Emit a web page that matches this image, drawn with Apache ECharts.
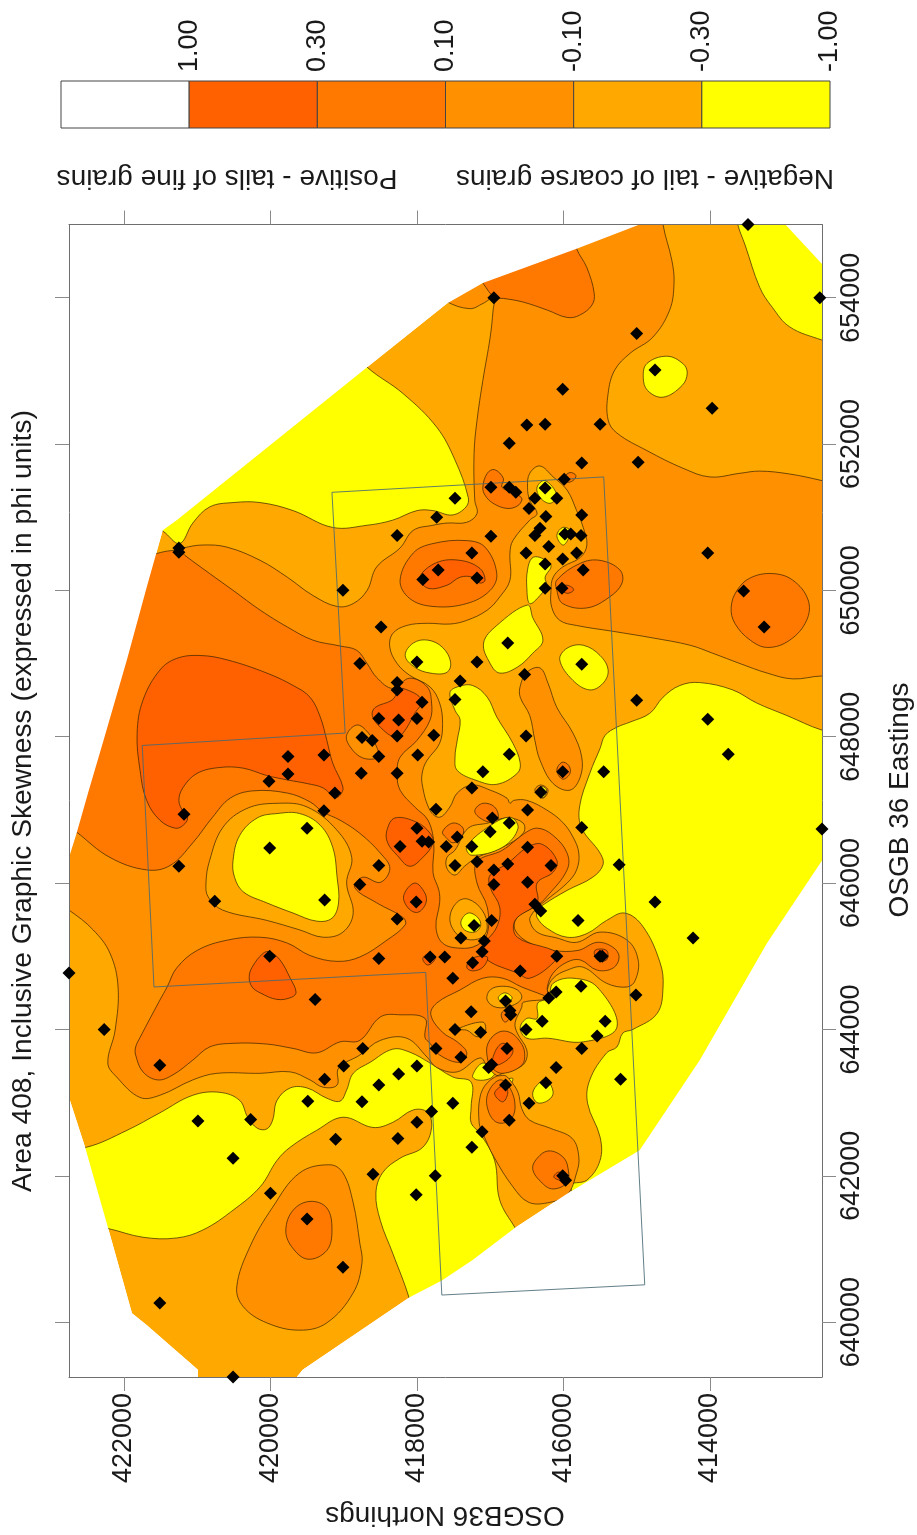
<!DOCTYPE html>
<html><head><meta charset="utf-8">
<style>html,body{margin:0;padding:0;background:#fff}#c{width:917px;height:1535px}</style>
<script src="https://cdn.jsdelivr.net/npm/echarts@6/dist/echarts.min.js"></script>
</head><body><div id="c"></div>
<script>
// All coordinates: [northing km, easting km, northing km, easting km, ...] in OSGB36
const northingTicks=[414000,416000,418000,420000,422000];
const eastingTicks=[640000,642000,644000,646000,648000,650000,652000,654000];
const legendLabels=["1.00","0.30","0.10","-0.10","-0.30","-1.00"];
const legendColors=["#ffffff","#ff6000","#ff7800","#ff9000","#ffa800","#ffff00"];
const C60="#ff6000",C78="#ff7800",C90="#ff9000",CA8="#ffa800",CY="#ffff00";

const domainEdge=[414.96,655.00,415.82,654.67,417.10,654.20,417.59,653.92,418.68,653.05,421.28,650.96,421.47,650.82,421.69,650.04,421.96,649.05,422.29,647.91,422.49,647.23,422.64,646.70,422.75,646.35,422.75,643.07,422.53,642.39,422.22,641.30,421.89,640.12,421.69,639.96,420.99,639.35,420.99,639.25,419.64,639.25,419.56,639.35,418.10,640.34,417.66,640.57,417.24,640.85,416.66,641.29,415.94,641.76,414.96,642.35,414.14,643.58,413.22,645.18,412.47,646.31,412.47,654.46,412.97,655.00];

// yellow (below -0.30)
const yNW=[418.68,653.05,418.19,652.69,417.73,652.23,417.48,651.78,417.30,651.27,417.33,651.14,417.52,651.03,417.78,651.09,418.00,651.09,418.33,650.96,418.68,650.89,419.15,650.86,419.69,651.09,420.14,651.20,420.51,651.20,420.83,651.14,421.06,650.92,421.24,650.64,421.47,650.81,421.78,650.96,418.85,653.28];
const yNE=[413.62,655.00,413.52,654.72,413.32,654.14,413.15,653.87,412.91,653.60,412.47,653.42,412.23,653.35,412.23,655.26,413.66,655.26];
const ySE=[412.23,648.06,412.47,648.09,412.95,648.29,413.36,648.46,413.69,648.64,414.14,648.74,414.41,648.70,414.64,648.54,414.82,648.32,415.09,648.20,415.27,648.13,415.43,648.02,415.50,647.84,415.64,647.50,415.78,647.04,415.75,646.75,415.50,646.41,415.46,646.25,415.60,646.08,415.95,645.90,416.28,645.70,416.35,645.63,416.36,645.53,416.22,645.38,415.95,645.26,415.68,645.31,415.41,645.49,415.16,645.59,414.91,645.40,414.68,644.91,414.64,644.58,414.72,644.22,415.05,644.00,415.19,643.95,415.27,643.76,415.41,643.68,415.64,643.31,415.67,642.99,415.50,642.53,415.50,642.21,415.68,641.94,415.91,641.87,415.64,641.55,414.27,642.62,412.91,644.40,412.23,646.04];
const ySW=[422.74,642.42,422.51,642.39,421.96,642.62,421.51,642.86,421.06,643.10,420.69,643.14,420.42,643.03,420.31,642.80,420.18,642.65,420.05,642.64,419.97,642.76,419.91,643.03,419.73,643.20,419.50,643.20,419.23,643.06,419.05,643.02,418.96,643.17,418.87,643.40,418.64,643.55,418.33,643.73,418.10,643.69,417.82,643.54,417.51,643.35,417.26,643.28,417.26,642.94,417.26,642.72,417.14,642.58,416.94,642.21,416.87,641.67,416.66,641.29,416.46,640.98,418.03,639.96,418.11,640.34,418.33,640.94,418.50,641.39,418.56,641.76,418.47,642.04,418.23,642.24,417.92,642.39,417.80,642.66,417.86,642.87,418.05,642.90,418.33,642.73,418.60,642.66,419.01,642.80,419.37,642.62,419.73,642.39,419.91,642.21,420.14,641.85,420.51,641.53,420.92,641.26,421.28,641.15,421.74,641.16,422.22,641.28,422.53,641.33];
const y5=[414.91,652.91,414.86,653.10,414.59,653.20,414.37,653.10,414.31,652.97,414.38,652.80,414.64,652.64,414.85,652.73];
const yA=[418.16,649.11,418.05,649.28,417.85,649.32,417.65,649.22,417.54,649.02,417.59,648.88,417.82,648.87,418.03,648.95];
const yB=[417.09,649.28,416.91,649.52,416.49,649.80,416.42,649.63,416.28,649.32,416.42,649.14,416.63,648.95,416.87,648.87,417.00,649.00];
const yC=[416.49,650.28,416.43,650.44,416.32,650.45,416.17,650.34,416.25,650.18,416.23,650.07,416.32,649.93,416.46,649.82,416.50,650.04];
const yD=[416.05,649.05,415.95,649.21,415.73,649.25,415.50,649.11,415.39,648.91,415.46,648.73,415.64,648.64,415.87,648.77];
const yE=[417.55,648.60,417.45,648.68,417.24,648.70,417.04,648.54,416.91,648.27,416.69,647.91,416.59,647.64,416.63,647.50,416.91,647.35,417.18,647.40,417.45,647.54,417.48,647.72,417.45,647.95,417.41,648.23,417.48,648.36];
const yG=[416.09,650.75,416.01,650.86,415.91,650.82,415.94,650.69,416.01,650.62];
const yH=[416.36,651.41,416.25,651.50,416.09,651.30,416.18,651.19,416.32,651.27];
const yBlob=[416.59,644.02,416.50,644.15,416.36,644.15,416.35,644.36,416.21,644.43,416.14,644.63,415.87,644.70,415.54,644.58,415.27,644.03,415.73,643.83,416.22,643.88,416.50,643.88];
const yJ=[416.42,643.13,416.32,643.28,416.23,643.31,416.14,643.14,416.21,643.03,416.36,643.00];
const yK=[417.24,643.37,417.10,643.54,416.94,643.42,417.00,643.33,417.18,643.31];
const yL=[416.77,643.31,416.69,643.33,416.73,643.24];

// -0.10 to 0.10 main area and islands
const f90Main=[414.64,655.26,414.64,655.00,414.52,654.51,414.49,654.20,414.55,653.83,414.78,653.46,415.09,653.24,415.30,653.01,415.39,652.69,415.39,652.33,415.27,652.15,414.86,651.91,414.37,651.67,414.00,651.55,413.59,651.60,413.32,651.63,412.91,651.59,412.47,651.50,412.16,651.42,412.16,648.80,412.47,648.83,412.87,648.79,413.22,648.87,413.59,649.00,413.96,649.14,414.27,649.25,414.78,649.35,415.32,649.44,415.82,649.52,416.05,649.59,416.16,649.77,416.17,650.00,416.14,650.18,416.01,650.32,415.77,650.45,415.68,650.62,415.73,650.86,415.82,651.09,415.95,651.37,416.14,651.55,416.32,651.70,416.46,651.60,416.49,651.41,416.46,651.23,416.36,651.05,416.46,650.96,416.69,650.68,416.73,650.51,416.73,650.14,416.87,649.91,417.04,649.73,417.32,649.59,417.55,649.54,417.86,649.55,418.14,649.52,418.33,649.41,418.37,649.22,418.27,649.00,418.10,648.84,417.82,648.68,417.69,648.46,417.65,648.18,417.69,647.91,417.86,647.68,417.92,647.54,417.93,647.36,417.82,646.99,417.69,646.90,417.55,647.04,417.45,647.23,417.25,647.34,417.00,647.27,416.77,647.16,416.73,647.09,416.68,647.13,416.50,647.13,416.23,647.00,416.01,646.83,415.87,646.63,415.79,646.41,415.82,646.18,415.95,646.00,416.23,645.77,416.35,645.67,416.42,645.59,416.46,645.49,416.36,645.33,416.09,645.25,415.82,645.19,415.50,645.33,415.13,645.22,414.98,644.95,415.02,644.67,415.13,644.58,415.41,644.63,415.73,644.85,415.95,644.81,416.14,644.70,416.22,644.54,416.20,644.43,416.55,644.37,416.57,644.30,416.66,644.09,416.63,643.95,416.50,643.72,416.53,643.54,416.69,643.44,416.83,643.40,417.04,643.27,417.14,643.07,417.15,642.72,417.10,642.58,416.95,642.26,416.69,641.85,416.48,641.64,416.22,641.63,415.95,641.74,415.82,642.04,415.79,642.26,415.88,642.51,416.18,642.65,416.46,642.76,416.57,642.92,416.62,643.14,416.73,643.31,416.80,643.37,416.91,643.37,417.03,643.48,417.14,643.61,417.45,643.42,417.73,643.48,417.86,643.62,418.14,643.88,418.50,643.85,418.78,643.65,419.07,643.47,419.09,643.24,419.28,643.21,419.46,643.31,419.73,643.42,420.14,643.40,420.73,643.40,421.06,643.31,421.51,643.10,421.78,643.07,422.10,643.35,422.22,643.54,422.12,643.99,422.08,644.58,422.19,645.04,422.42,645.36,422.75,645.63,423.08,645.83,423.08,650.41,421.65,650.48,421.25,650.55,421.19,650.58,420.92,650.62,420.59,650.59,420.14,650.41,419.77,650.18,419.42,649.93,419.09,649.78,418.87,649.82,418.68,650.00,418.55,650.32,418.23,650.58,418.05,650.82,417.78,650.89,417.59,650.92,417.32,650.93,417.18,651.05,417.21,651.23,417.22,651.87,417.18,652.32,417.10,652.87,417.00,653.46,416.96,653.83,416.95,654.00,417.10,653.92,417.28,653.85,417.60,653.95,417.89,654.17,417.28,654.51,415.50,655.26];
const f90Tongue=[416.59,648.69,416.50,648.88,416.32,648.94,416.21,648.73,416.09,648.40,415.87,648.05,415.75,647.72,415.77,647.45,415.91,647.27,416.14,647.36,416.32,647.68,416.39,647.95,416.46,648.29,416.59,648.54];
const f90Ring=[416.39,647.27,416.31,647.34,416.21,647.27,416.28,647.16];
const f90Oval=[420.46,640.48,420.28,641.03,419.97,641.57,419.60,642.04,419.19,642.15,419.01,642.04,418.87,641.63,418.78,641.08,418.75,640.81,418.87,640.40,419.23,639.99,419.60,639.89,420.05,639.99,420.37,640.21];
const yI=[416.36,647.27,416.29,647.32,416.23,647.27,416.28,647.17];

// 0.10 to 0.30
const f78Main=[421.25,650.55,421.17,650.48,420.83,650.23,420.51,650.00,420.14,649.73,419.77,649.50,419.42,649.32,419.05,649.24,418.82,649.18,418.68,649.00,418.55,648.81,418.33,648.66,418.10,648.80,417.86,648.68,417.80,648.46,417.82,648.23,418.00,647.95,418.23,647.72,418.27,647.50,418.23,647.27,418.03,647.04,417.85,646.86,417.77,646.55,417.78,646.14,417.70,645.90,417.69,645.73,417.74,645.40,417.65,645.18,417.41,645.11,417.18,645.15,417.04,645.31,417.04,645.67,417.18,646.00,417.18,646.29,416.83,646.45,416.53,646.68,416.35,646.75,416.14,646.65,415.95,646.41,415.95,646.18,416.23,645.81,416.35,645.70,416.63,645.53,416.66,645.36,416.46,645.18,416.14,645.08,415.80,645.08,415.54,645.19,415.32,645.12,415.24,644.99,415.32,644.84,415.54,644.81,415.77,644.95,415.95,644.92,416.14,644.77,416.22,644.58,416.21,644.44,416.28,644.47,416.57,644.58,416.83,644.70,417.10,644.70,417.41,644.54,417.73,644.36,417.81,644.20,417.65,643.96,417.45,643.83,417.32,643.68,417.41,643.55,417.69,643.65,417.82,643.81,417.89,643.89,417.89,644.15,418.23,644.20,418.50,644.17,418.78,643.85,419.05,643.83,419.37,643.68,419.69,643.74,420.05,643.80,420.51,643.81,420.83,643.76,421.06,643.58,421.33,643.38,421.54,643.31,421.74,643.42,421.84,643.65,421.84,643.76,421.78,643.89,421.51,644.40,421.41,644.58,421.28,644.84,421.00,645.08,420.59,645.22,420.14,645.26,419.77,645.18,419.46,645.01,419.09,644.93,418.78,644.99,418.41,645.22,418.16,645.43,418.19,645.53,418.55,645.73,418.85,645.94,418.74,646.08,418.50,646.01,418.37,646.20,418.50,646.41,418.78,646.68,419.05,646.86,419.28,646.97,419.46,647.11,419.77,647.23,420.24,647.26,420.55,647.16,420.79,646.90,421.06,646.55,421.37,646.24,421.69,646.18,422.19,646.35,422.65,646.70,422.94,646.93,422.94,647.82,421.99,650.27,421.65,650.47];
const f78Centre=[418.23,650.14,418.05,650.51,417.78,650.64,417.32,650.68,417.07,650.59,416.91,650.23,417.00,650.00,417.32,649.82,417.78,649.78,418.10,649.89];
const f78Right=[416.09,650.14,415.77,650.37,415.50,650.41,415.23,650.28,415.20,650.10,415.37,649.91,415.68,649.76,416.01,649.82,416.09,650.00];
const f78Wedge=[415.84,654.85,415.82,654.67,415.68,654.41,415.58,654.06,415.61,653.90,415.78,653.76,415.95,653.73,416.22,653.83,416.55,653.94,416.82,653.99,416.94,654.00,417.10,654.20,417.28,654.44];
const f78Hook=[417.10,651.41,417.04,651.60,416.94,651.65,416.82,651.53,416.84,651.41,416.70,651.34,416.57,651.26,416.62,651.16,416.77,651.12,416.96,651.19,417.07,651.30];
const f78Dot=[415.98,651.55,415.91,651.61,415.83,651.57,415.87,651.50,415.95,651.48];
const f78Circle=[413.71,649.77,413.63,650.00,413.45,650.17,413.15,650.23,412.87,650.14,412.66,649.87,412.68,649.59,412.91,649.32,413.21,649.22,413.45,649.32,413.66,649.55];
const f78Spot=[416.09,647.54,416.02,647.65,415.93,647.61,415.91,647.50,416.01,647.42];
const f78Band1=[417.21,646.99,417.10,647.09,416.94,647.04,416.89,646.89,416.98,646.83,417.14,646.89];
const f78Band2=[417.65,646.70,417.51,646.82,417.37,646.75,417.40,646.61,417.51,646.55,417.59,646.61];
const f78Lobe=[417.03,643.13,417.03,642.90,416.91,642.73,416.73,642.76,416.66,642.94,416.73,643.20,416.87,643.31];
const f78South=[416.42,642.10,416.32,642.28,416.18,642.34,416.01,642.26,415.94,642.12,415.95,641.91,416.14,641.82,416.29,641.90];
const f78Neck=[417.04,643.62,417.03,643.81,416.89,643.96,416.73,643.96,416.59,643.83,416.53,643.68,416.57,643.51,416.83,643.40,416.98,643.48];
const f78Small=[416.85,644.20,416.80,644.26,416.73,644.17,416.80,644.10];
const f78Oval=[419.79,641.26,419.69,641.53,419.46,641.65,419.23,641.56,419.16,641.26,419.23,640.98,419.49,640.86,419.71,641.03];
const f90Inner=[418.82,648.16,418.67,648.06,418.55,647.86,418.53,647.72,418.74,647.71,418.91,647.86,418.96,648.02];

// -0.30 to -0.10 pockets and the yellow cores inside them
const a8Left=[420.88,646.00,420.83,646.31,420.65,646.76,420.32,647.02,419.91,647.09,419.50,647.04,419.09,646.72,418.89,646.35,418.96,646.00,418.87,645.59,419.01,645.33,419.28,645.26,419.60,645.36,420.05,645.49,420.65,645.63,420.85,645.81];
const yLeft=[420.51,646.31,420.42,646.65,420.18,646.89,419.91,646.95,419.60,646.95,419.32,646.79,419.15,646.49,419.09,646.08,419.07,645.73,419.16,645.52,419.37,645.48,419.69,645.59,420.05,645.73,420.37,645.88,420.49,646.08];
const a8Mid=[417.55,645.53,417.45,645.74,417.30,645.78,417.11,645.63,417.04,645.40,417.11,645.26,417.32,645.23,417.48,645.33];
const yMid=[417.40,645.47,417.30,645.59,417.17,645.53,417.13,645.42,417.21,645.33,417.35,645.36];
const a8Sausage=[417.59,646.35,417.48,646.45,417.30,646.75,417.03,646.82,416.77,646.89,416.55,646.82,416.55,646.68,416.83,646.49,417.18,646.35,417.35,646.23,417.48,646.11,417.59,646.20];
const ySausage=[417.32,646.49,417.05,646.75,416.73,646.90,416.62,646.75,416.83,646.49,417.25,646.38];
const a8Low=[417.04,644.40,417.00,644.54,416.83,644.59,416.63,644.54,416.57,644.43,416.69,644.33,416.91,644.30];
const yLow=[416.89,644.43,416.80,644.50,416.70,644.43,416.80,644.36];
const a8Sliver=[417.48,643.99,417.10,644.10,417.07,643.95,417.18,643.90,417.32,643.99];

// 0.30 to 1.00
const f60Big=[421.82,648.05,421.74,648.50,421.51,648.91,421.28,649.07,420.96,649.11,420.59,649.05,420.05,648.87,419.69,648.70,419.46,648.54,419.32,648.27,419.23,647.95,419.15,647.64,419.01,647.31,419.05,647.20,419.12,647.17,419.28,647.30,419.50,647.36,419.77,647.41,420.05,647.47,420.37,647.57,420.69,647.58,421.00,647.50,421.19,647.31,421.25,647.13,421.19,646.97,421.13,646.89,421.19,646.79,421.30,646.75,421.51,646.86,421.69,647.13,421.78,647.54];
const f60Lower=[420.29,644.71,420.25,644.85,420.10,645.04,420.01,645.06,419.87,644.95,419.73,644.70,419.65,644.51,419.71,644.44,419.91,644.41,420.14,644.50,420.25,644.58];
const f60CentreLeft=[418.61,648.29,418.57,648.40,418.34,648.50,418.26,648.61,418.19,648.66,417.93,648.50,418.03,648.32,418.19,648.05,418.30,647.99,418.50,648.13];
const f60Central=[417.00,646.11,416.76,646.27,416.49,646.49,416.29,646.53,416.09,646.31,416.14,646.15,416.36,646.00,416.36,645.73,416.66,645.49,416.63,645.26,416.09,645.05,416.14,644.91,416.46,644.70,416.63,644.77,417.04,644.95,417.10,645.12,416.91,645.40,416.87,645.67,417.00,645.94];
const f60D=[418.41,646.72,418.30,646.89,418.00,646.83,417.82,646.68,417.78,646.55,417.92,646.35,418.10,646.23,418.27,646.38,418.40,646.55];
const f60E=[418.18,645.83,418.03,646.00,417.89,645.86,417.88,645.72,417.99,645.60,418.12,645.66];
const f60T1=[417.92,644.97,417.82,645.04,417.75,644.97,417.85,644.88];
const f60T2=[417.32,644.85,417.25,644.97,417.04,644.99,417.10,644.85,417.24,644.80];
const f60Core=[415.57,645.08,415.41,645.08,415.41,644.95,415.54,644.95];
const f60Inner=[417.96,650.18,417.73,650.38,417.41,650.41,417.14,650.30,417.07,650.14,417.14,650.10,417.24,650.18,417.41,650.18,417.59,650.07,417.85,650.03];
const f60Tiny=[416.07,650.04,415.95,650.07,415.86,650.01,415.95,649.96];
const f60Lobe=[416.94,643.13,416.83,643.01,416.76,643.13,416.80,643.24];
const f60South=[416.13,641.98,416.07,642.05,415.99,642.01,416.02,641.94];
const f60Neck=[416.94,643.68,416.83,643.81,416.69,643.72,416.77,643.58,416.96,643.51];

const surveyOutline=[419.16,651.34,415.45,651.55,414.89,640.51,417.66,640.37,417.88,644.78,421.59,644.58,421.75,647.88,418.98,648.05,419.16,651.34];

const sampleNorthing=[416.95,413.48,412.50,415.00,414.75,413.97,416.01,416.50,416.25,415.50,416.74,415.75,414.98,415.99,416.99,416.74,416.65,416.25,416.39,416.09,416.47,416.24,415.75,417.48,421.25,421.25,419.01,418.49,418.78,418.27,418.27,418.27,418.52,418.25,418.27,418.75,418.61,418.52,419.76,419.27,419.76,420.02,418.76,418.27,419.12,417.73,416.99,416.32,416.39,415.98,415.90,415.76,416.20,416.51,415.82,416.01,416.25,415.73,417.25,417.71,417.92,417.18,416.25,416.02,418.00,417.41,417.18,416.76,417.48,417.93,418.00,417.77,417.99,416.53,415.75,415.00,416.51,416.74,416.01,415.45,417.10,414.03,413.54,413.26,414.03,413.75,412.47,415.24,414.75,414.23,415.47,415.01,415.43,415.22,421.18,421.25,420.01,419.50,419.26,420.76,419.27,418.52,418.78,418.27,418.52,420.01,419.39,422.75,422.27,418.74,417.25,417.74,416.97,416.49,416.74,417.00,415.75,416.31,418.00,417.45,417.93,417.84,418.23,417.60,417.25,416.49,417.48,417.18,416.76,416.95,416.17,416.95,416.49,418.01,416.39,416.31,415.80,416.98,417.22,417.40,417.08,417.11,417.24,417.82,417.62,416.09,415.50,416.59,417.51,415.76,416.10,416.20,416.79,416.73,416.72,417.26,416.29,416.51,417.48,417.13,415.54,415.75,416.10,416.24,416.77,416.98,417.02,416.79,416.47,416.74,417.11,417.25,415.97,416.01,417.40,417.74,419.00,418.00,418.25,418.52,418.75,417.80,417.51,418.00,418.26,418.60,417.75,418.01,421.51,419.26,419.49,420.27,420.99,420.51,420.00,419.11,419.50,419.01,421.51,420.51];
const sampleEasting=[654.00,655.00,654.00,653.51,653.01,652.49,652.75,652.26,652.27,652.27,652.01,651.74,651.75,651.52,651.41,651.41,651.34,651.40,651.26,651.26,651.12,651.01,651.03,651.26,650.58,650.52,650.00,649.50,649.00,648.64,648.74,650.75,648.25,648.23,648.01,647.99,647.95,647.73,647.73,647.75,647.49,647.39,647.50,647.50,647.23,651.00,650.74,650.85,650.75,650.77,650.77,650.75,650.60,650.51,650.51,650.43,650.36,650.28,650.51,650.28,650.15,650.17,650.03,650.03,649.02,648.76,649.02,649.28,648.51,648.47,648.25,648.02,647.75,648.85,648.99,648.50,648.01,647.76,647.52,647.52,647.52,650.51,649.99,649.50,648.24,647.76,646.74,646.25,645.74,645.25,645.00,644.47,644.11,643.32,646.94,646.23,646.48,646.75,645.77,645.75,646.99,646.24,645.98,645.51,644.97,645.00,644.41,644.77,644.00,643.74,647.30,647.01,646.89,647.00,646.82,646.70,646.76,647.24,646.75,646.63,646.57,646.56,646.50,646.50,646.50,646.49,646.24,646.29,646.26,646.18,646.24,645.98,646.01,645.74,645.71,645.62,645.49,645.49,645.42,645.25,645.21,645.06,644.91,644.99,644.99,645.00,645.00,644.80,644.70,644.59,644.51,644.43,644.39,644.26,644.20,644.24,644.11,644.00,644.00,643.96,643.91,643.74,643.48,643.27,643.74,643.52,643.48,643.24,642.99,642.76,642.60,642.39,641.94,642.00,643.62,643.74,643.50,643.50,643.39,643.24,643.01,642.88,642.99,642.73,642.51,642.02,642.00,641.74,643.51,643.32,643.02,642.77,642.75,642.24,641.76,642.50,641.41,640.75,640.26,639.25];

// helpers
const pairs=a=>{const r=[];for(let i=0;i<a.length;i+=2)r.push([a[i]*1000,a[i+1]*1000]);return r;};
const domain=pairs(domainEdge);
const outsideNW=domain.slice(0,13).concat(pairs([423,646.35,423,655.3,414.96,655.3]));
const outsideSW=domain.slice(13,20).concat(pairs([420.99,639,423,639,423,643.07]));
const outsideSE=domain.slice(20,31).concat(pairs([412.2,646.31,412.2,639,419.64,639]));
const outsideNE=domain.slice(31,33).concat(pairs([412.97,655.3,412.2,655.3,412.2,654.46]));

const layers=[
 [CY,[yNW,yNE,ySE,ySW,y5,yA,yB,yC,yD,yE,yG,yH,yBlob,yJ,yK,yL]],
 [C90,[f90Main,f90Tongue,f90Ring,f90Oval]],
 [CY,[yI]],
 [C78,[f78Main,f78Centre,f78Right,f78Wedge,f78Hook,f78Dot,f78Circle,f78Spot,f78Band1,f78Band2,f78Lobe,f78South,f78Neck,f78Small,f78Oval]],
 [C90,[f90Inner]],
 [CA8,[a8Left,a8Mid,a8Sausage,a8Low,a8Sliver]],
 [CY,[yLeft,yMid,ySausage,yLow]],
 [C60,[f60Big,f60Lower,f60CentreLeft,f60Central,f60D,f60E,f60T1,f60T2,f60Core,f60Inner,f60Tiny,f60Lobe,f60South,f60Neck]]
];
const regions=[{pts:domain,fill:CA8,plain:true}];
layers.forEach(([c,list])=>list.forEach(a=>regions.push({pts:pairs(a),fill:c})));
[outsideNW,outsideSW,outsideSE,outsideNE].forEach(p=>regions.push({pts:p,fill:"#ffffff",plain:true}));

const renderRegion=(params,api)=>{
  const r=regions[params.dataIndex];
  return {type:'polygon',z2:params.dataIndex,
    shape:{points:r.pts.map(p=>api.coord(p)),smooth:r.plain?0:0.38},
    style:r.plain?{fill:r.fill,stroke:null}:{fill:r.fill,stroke:'rgba(45,30,0,0.85)',lineWidth:0.8}};
};
const renderCell=(params,api)=>{
  const i=api.value(0),a=api.coord([i,1]),b=api.coord([i+1,0]);
  return {type:'rect',shape:{x:a[0],y:a[1],width:b[0]-a[0],height:b[1]-a[1]},
    style:{fill:legendColors[i],stroke:'#444',lineWidth:1}};
};
const FONT='"Liberation Sans",Arial,sans-serif';
const txt=(text,x,y,rot,size)=>({type:'text',x,y,rotation:rot,z:20,
  style:{text,fill:'#1a1a1a',font:size+'px '+FONT,align:'center',verticalAlign:'middle'}});
const mirrorAxis=(pos,vals,min,max,inv)=>({type:'value',gridIndex:0,position:pos,min,max,inverse:inv,z:4,
  axisLine:{show:true,onZero:false,lineStyle:{color:'#6e6e6e',width:1}},
  axisTick:{show:true,length:14,customValues:vals,lineStyle:{color:'#8a8a8a',width:1}},
  axisLabel:{show:false},splitLine:{show:false}});
const numberLabel={show:true,rotate:90,fontSize:27,fontFamily:FONT,color:'#1a1a1a',margin:16,formatter:v=>String(v)};

const xB=mirrorAxis('bottom',northingTicks,412470,422750,true);
xB.axisLabel=Object.assign({},numberLabel,{customValues:northingTicks});
const xT=mirrorAxis('top',northingTicks,412470,422750,true);
const yR=mirrorAxis('right',eastingTicks,639250,655000,false);
yR.axisLabel=Object.assign({},numberLabel,{customValues:eastingTicks});
const yL2=mirrorAxis('left',eastingTicks,639250,655000,false);

const chart=echarts.init(document.getElementById('c'),null,{renderer:'canvas'});
chart.setOption({
  animation:false,backgroundColor:'#fff',
  grid:[{left:69,top:224.5,width:753,height:1152.5,show:false},{left:61,top:81,width:769,height:47,show:false}],
  xAxis:[xB,xT,{type:'value',gridIndex:1,position:'top',min:0,max:6,interval:1,
    axisLine:{show:false},axisTick:{show:false},splitLine:{show:false},
    axisLabel:{show:true,rotate:90,fontSize:27,fontFamily:FONT,color:'#1a1a1a',margin:9,showMinLabel:false,
      formatter:v=>legendLabels[v-1]||''}}],
  yAxis:[yR,yL2,{type:'value',gridIndex:1,min:0,max:1,show:false}],
  graphic:{elements:[
    txt('Area 408, Inclusive Graphic Skewness (expressed in phi units)',23,801,Math.PI/2,28.2),
    txt('OSGB 36 Eastings',900,800,Math.PI/2,28),
    txt('OSGB36 Northings',445,1515,Math.PI,28),
    txt('Negative - tail of coarse grains',645,178,Math.PI,28),
    txt('Positive - tails of fine grains',227,178,Math.PI,28)
  ]},
  series:[
    {type:'custom',xAxisIndex:0,yAxisIndex:0,clip:true,z:2,renderItem:renderRegion,
      data:regions.map(r=>r.pts[0]),progressive:0,silent:true},
    {type:'line',xAxisIndex:0,yAxisIndex:0,z:3,symbol:'none',silent:true,
      data:pairs(surveyOutline),lineStyle:{color:'rgba(70,105,115,0.85)',width:1}},
    {type:'scatter',xAxisIndex:0,yAxisIndex:0,z:6,clip:false,symbol:'diamond',symbolSize:13,silent:true,
      itemStyle:{color:'#000',opacity:1},data:sampleNorthing.map((n,i)=>[n*1000,sampleEasting[i]*1000])},
    {type:'custom',xAxisIndex:2,yAxisIndex:2,z:2,renderItem:renderCell,silent:true,
      data:legendLabels.map((l,i)=>[i])}
  ]
});
</script></body></html>
